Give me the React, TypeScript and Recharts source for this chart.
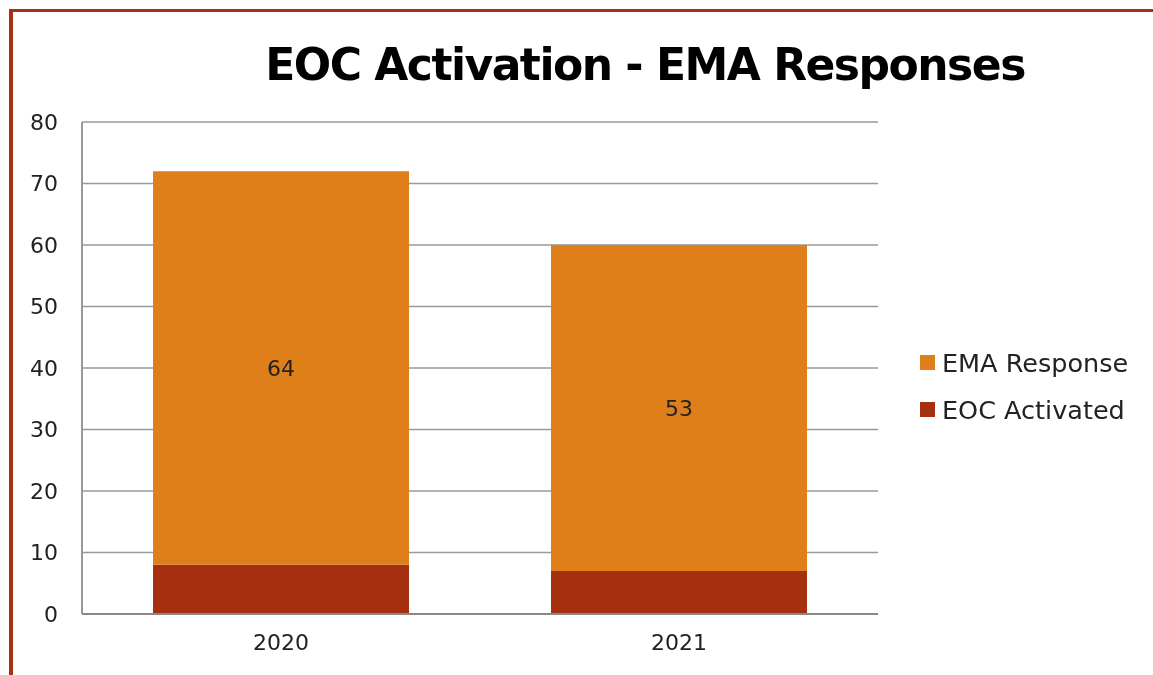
import React from "react";
import { BarChart, Bar, XAxis, YAxis, CartesianGrid, LabelList } from "recharts";

const categories = ["2020", "2021"];
const eocActivated = [8, 7];
const emaResponse = [64, 53];
const yTicks = [0, 10, 20, 30, 40, 50, 60, 70, 80];
const legendItems = ["EMA Response", "EOC Activated"];

const data = categories.map((c, i) => ({
  year: c,
  eoc: eocActivated[i],
  ema: emaResponse[i],
}));

const ORANGE = "#DF7F1A";
const RED = "#A5300F";
const FONT = "'DejaVu Sans', sans-serif";
const legendColors = [ORANGE, RED];

export default function App() {
  return (
    <div style={{ position: "relative", width: 1137, height: 659, overflow: "hidden" }}>
      <div
        style={{
          position: "fixed",
          left: 9,
          top: 9,
          width: 1143,
          height: 700,
          borderTop: "3px solid #A93113",
          borderLeft: "4px solid #A93113",
        }}
      />
      <div
        style={{
          position: "absolute",
          left: 0,
          width: 1274,
          top: 31,
          textAlign: "center",
          fontFamily: FONT,
          fontWeight: "bold",
          fontSize: 44,
          letterSpacing: -1.5,
          color: "#000",
          whiteSpace: "nowrap",
        }}
      >
        EOC Activation - EMA Responses
      </div>
      <div style={{ position: "absolute", left: 0, top: 0 }}>
        <BarChart
          width={1137}
          height={667}
          data={data}
          margin={{ top: 114, right: 267, left: 14, bottom: 31 }}
        >
          <CartesianGrid vertical={false} stroke="#999" strokeWidth={1.5} />
          <XAxis
            dataKey="year"
            tickLine={false}
            axisLine={{ stroke: "#888", strokeWidth: 2 }}
            tick={{ fill: "#222", fontSize: 22, fontFamily: FONT }}
            height={30}
            tickMargin={14}
          />
          <YAxis
            domain={[0, 80]}
            ticks={yTicks}
            tickLine={false}
            axisLine={{ stroke: "#999", strokeWidth: 2 }}
            tick={{ fill: "#222", fontSize: 22, fontFamily: FONT }}
            width={60}
            tickMargin={18}
          />
          <Bar dataKey="eoc" stackId="a" fill={RED} barSize={256} isAnimationActive={false} />
          <Bar dataKey="ema" stackId="a" fill={ORANGE} barSize={256} isAnimationActive={false}>
            <LabelList
              dataKey="ema"
              position="center"
              fill="#222"
              fontSize={22}
              fontFamily={FONT}
            />
          </Bar>
        </BarChart>
      </div>
      <div
        style={{
          position: "absolute",
          left: 912,
          top: 331,
          fontFamily: FONT,
          fontSize: 25.5,
          color: "#222",
        }}
      >
        {legendItems.map((name, i) => (
          <div key={name} style={{ display: "flex", alignItems: "center", height: 47 }}>
            <div style={{ width: 15, height: 15, background: legendColors[i], marginRight: 7 }} />
            <span style={{ whiteSpace: "nowrap" }}>{name}</span>
          </div>
        ))}
      </div>
    </div>
  );
}
